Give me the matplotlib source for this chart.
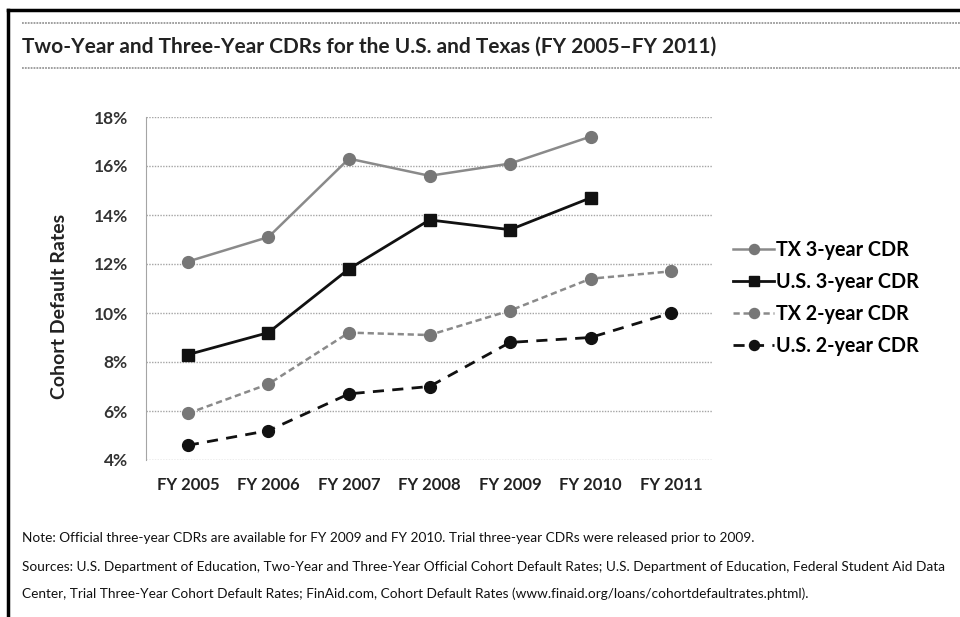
import matplotlib
matplotlib.use('Agg')
import matplotlib.pyplot as plt
from matplotlib.lines import Line2D

years = ['FY 2005', 'FY 2006', 'FY 2007', 'FY 2008', 'FY 2009', 'FY 2010', 'FY 2011']
tx3 = [12.1, 13.1, 16.3, 15.6, 16.1, 17.2]
us3 = [8.3, 9.2, 11.8, 13.8, 13.4, 14.7]
tx2 = [5.9, 7.1, 9.2, 9.1, 10.1, 11.4, 11.7]
us2 = [4.6, 5.2, 6.7, 7.0, 8.8, 9.0, 10.0]
yTicks = [4, 6, 8, 10, 12, 14, 16, 18]

title = 'Two-Year and Three-Year CDRs for the U.S. and Texas (FY 2005\u2013FY 2011)'
note = ('Note: Official three-year CDRs are available for FY 2009 and FY 2010. '
        'Trial three-year CDRs were released prior to 2009.')
source1 = ('Sources: U.S. Department of Education, Two-Year and Three-Year Official Cohort Default Rates; '
           'U.S. Department of Education, Federal Student Aid Data')
source2 = ('Center, Trial Three-Year Cohort Default Rates; FinAid.com, Cohort Default Rates '
           '(www.finaid.org/loans/cohortdefaultrates.phtml).')

W, H = 960, 617
fig = plt.figure(figsize=(9.6, 6.17), dpi=100)

def fx(px):
    return px / W

def fy(py):
    return 1 - py / H

ax = fig.add_axes([fx(146), fy(460), fx(713) - fx(146), fy(117) - fy(460)])

gray = '#8a8a8a'
x3 = list(range(len(tx3)))
x2 = list(range(len(tx2)))
ax.plot(x3, tx3, color=gray, lw=1.8, marker='o', ms=8.5, mfc='#777777', mec='#777777',
        label='TX 3-year CDR', clip_on=False, zorder=4)
ax.plot(x3, us3, color='#111111', lw=2, marker='s', ms=8, mfc='#111111', mec='#111111',
        label='U.S. 3-year CDR', clip_on=False, zorder=5)
ax.plot(x2, tx2, color=gray, lw=1.8, ls=(0, (2.5, 1.5)), marker='o', ms=8.5, mfc='#777777',
        mec='#777777', label='TX 2-year CDR', clip_on=False, zorder=4)
ax.plot(x2, us2, color='#111111', lw=2, ls=(0, (4, 3)), marker='o', ms=8.5, mfc='#111111',
        mec='#111111', label='U.S. 2-year CDR', clip_on=False, zorder=5)

ax.set_xlim(-0.52, 6.52)
ax.set_ylim(4, 18)
ax.set_yticks(yTicks)
ax.set_yticklabels([f'{t}%' for t in yTicks])
ax.set_xticks(x2)
ax.set_xticklabels(years)
ax.grid(axis='y', color='#a5a5a5', ls=(0, (1, 1)), lw=1)
for s in ['top', 'right', 'bottom']:
    ax.spines[s].set_visible(False)
ax.spines['left'].set_color('#a5a5a5')
ax.spines['left'].set_linestyle((0, (1, 1)))
ax.tick_params(length=0)
ax.tick_params(axis='y', pad=13)
ax.tick_params(axis='x', pad=12)
for lbl in ax.get_yticklabels():
    lbl.set_fontfamily('Lato')
    lbl.set_fontweight('bold')
    lbl.set_fontsize(12.5)
    lbl.set_color('#333333')
for lbl in ax.get_xticklabels():
    lbl.set_fontfamily('Lato')
    lbl.set_fontweight('bold')
    lbl.set_fontsize(12)
    lbl.set_color('#222222')
ax.set_ylabel('Cohort Default Rates', fontfamily='Lato', fontweight='bold', fontsize=14,
              color='#222222')
ax.yaxis.set_label_coords(-0.1376, 0.449)

fig.legend(loc='center left', bbox_to_anchor=(fx(733), fy(298)), frameon=False,
           prop={'family': 'Lato', 'weight': 'bold', 'size': 14.2}, handlelength=2.1,
           handletextpad=0.1, labelspacing=0.62, borderpad=0, borderaxespad=0,
           markerscale=0.85)

# frame and rules
fig.add_artist(Line2D([fx(8), fx(8)], [fy(10), 0], color='black', lw=2.5))
fig.add_artist(Line2D([fx(8), 1], [fy(10), fy(10)], color='black', lw=2.5))
fig.add_artist(Line2D([fx(22), 1], [fy(23), fy(23)], color='#999999', lw=1.3, ls=(0, (1, 0.6))))
fig.add_artist(Line2D([fx(22), 1], [fy(68), fy(68)], color='#999999', lw=1.3, ls=(0, (1, 0.6))))

fig.text(fx(22), fy(47), title, fontfamily='Lato', fontweight='bold', fontsize=15,
         color='#222222', va='center', ha='left')
fig.text(fx(22), fy(538), note, fontfamily='Lato', fontsize=9.8,
         color='#111111', va='center', ha='left')
fig.text(fx(22), fy(567), source1, fontfamily='Lato', fontsize=9.8,
         color='#111111', va='center', ha='left')
fig.text(fx(22), fy(594), source2, fontfamily='Lato', fontsize=9.8,
         color='#111111', va='center', ha='left')

fig.savefig('out.png', dpi=100)
